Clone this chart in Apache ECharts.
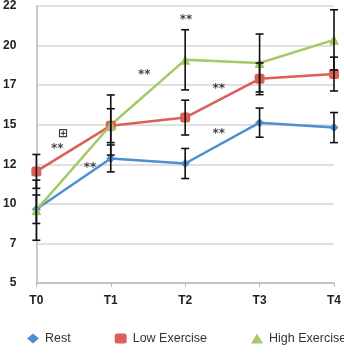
<!DOCTYPE html>
<html>
<head>
<meta charset="utf-8">
<script src="https://cdn.jsdelivr.net/npm/echarts@6/dist/echarts.min.js"></script>
<style>
  html, body { margin: 0; padding: 0; background: #fff; }
  #chart { width: 344px; height: 354px; }
</style>
</head>
<body>
<div id="chart"></div>
<script>
// time points and group means
var categories = ['T0', 'T1', 'T2', 'T3', 'T4'];
var rest = [9.66, 12.87, 12.55, 15.13, 14.82];
var restErr = [0.9, 0.85, 0.95, 0.92, 0.95];
var low = [12.05, 14.94, 15.45, 17.9, 18.2];
var lowErr = [1.07, 1.07, 1.1, 1.0, 1.07];
var high = [9.6, 14.98, 19.1, 18.9, 20.36];
var highErr = [1.9, 1.9, 1.9, 1.83, 1.9];
// significance marks: [x position (0..4), y value, text]
var marks = [
    [0.28, 13.5, '**'],
    [0.72, 12.3, '**'],
    [1.45, 18.15, '**'],
    [2.01, 21.6, '**'],
    [2.45, 17.27, '**'],
    [2.45, 14.44, '**'],
    [0.36, 14.44, '\u229e']
];

var chart = echarts.init(document.getElementById('chart'));

function errData(vals, errs) {
    return vals.map(function (v, i) { return [i, v, errs[i]]; });
}

function errSeries(name, vals, errs) {
    return {
        name: name + ' err',
        type: 'custom',
        z: 5,
        silent: true,
        data: errData(vals, errs),
        renderItem: function (params, api) {
            var i = api.value(0);
            var v = api.value(1);
            var e = api.value(2);
            var top = api.coord([i, v + e]);
            var bot = api.coord([i, v - e]);
            var w = 4;
            var st = { stroke: '#111', lineWidth: 1.6 };
            return {
                type: 'group',
                children: [
                    { type: 'line', shape: { x1: top[0], y1: top[1], x2: bot[0], y2: bot[1] }, style: st },
                    { type: 'line', shape: { x1: top[0] - w, y1: top[1], x2: top[0] + w, y2: top[1] }, style: st },
                    { type: 'line', shape: { x1: bot[0] - w, y1: bot[1], x2: bot[0] + w, y2: bot[1] }, style: st }
                ]
            };
        }
    };
}

var option = {
    animation: false,
    textStyle: { fontFamily: 'Liberation Sans, Arial, sans-serif' },
    grid: { left: 36, right: 8, top: 5, bottom: 71, containLabel: false },
    legend: {
        bottom: 4,
        left: 22,
        width: 600,
        itemGap: 44,
        itemWidth: 12,
        itemHeight: 10,
        textStyle: { fontSize: 12.5, color: '#333', padding: [0, 0, 0, 1] },
        data: [
            { name: 'Rest', icon: 'diamond' },
            { name: 'Low Exercise', icon: 'roundRect' },
            { name: 'High Exercise', icon: 'triangle' }
        ]
    },
    xAxis: [{
        type: 'category',
        data: categories,
        boundaryGap: false,
        axisLine: { lineStyle: { color: '#bbb', width: 1.5 } },
        axisTick: { show: true, length: 4, lineStyle: { color: '#bbb' } },
        axisLabel: { margin: 12, fontSize: 12, color: '#222', fontWeight: 'bold' }
    }, {
        type: 'value',
        min: 0,
        max: 4,
        show: false
    }],
    yAxis: {
        type: 'value',
        min: 5,
        max: 22.5,
        interval: 2.5,
        axisLine: { show: true, lineStyle: { color: '#bbb', width: 1.5 } },
        axisTick: { show: false },
        axisLabel: {
            margin: 20,
            fontSize: 12,
            color: '#222',
            fontWeight: 'bold',
            formatter: function (v) { return Math.floor(v); }
        },
        splitLine: { lineStyle: { color: '#d6d6d6', width: 1.5 } }
    },
    series: [
        {
            name: 'Rest', type: 'line', data: rest,
            symbol: 'diamond', symbolSize: 9,
            lineStyle: { color: '#4d8fd1', width: 2.5 },
            itemStyle: { color: '#4d8fd1' }
        },
        {
            name: 'Low Exercise', type: 'line', data: low,
            symbol: 'roundRect', symbolSize: 10,
            lineStyle: { color: '#dc5f5a', width: 2.5 },
            itemStyle: { color: '#dc5f5a' }
        },
        {
            name: 'High Exercise', type: 'line', data: high,
            symbol: 'triangle', symbolSize: 10,
            lineStyle: { color: '#a6c866', width: 2.5 },
            itemStyle: { color: '#a6c866' }
        },
        errSeries('Rest', rest, restErr),
        errSeries('Low Exercise', low, lowErr),
        errSeries('High Exercise', high, highErr),
        {
            name: 'marks',
            type: 'scatter',
            xAxisIndex: 1,
            symbolSize: 0,
            silent: true,
            data: marks.map(function (m) { return { value: [m[0], m[1]], name: m[2] }; }),
            label: {
                show: true,
                position: 'inside',
                formatter: '{b}',
                color: '#111',
                fontSize: 12,
                fontWeight: 'bold',
                fontFamily: 'DejaVu Sans'
            }
        }
    ]
};
chart.setOption(option);
</script>
</body>
</html>
